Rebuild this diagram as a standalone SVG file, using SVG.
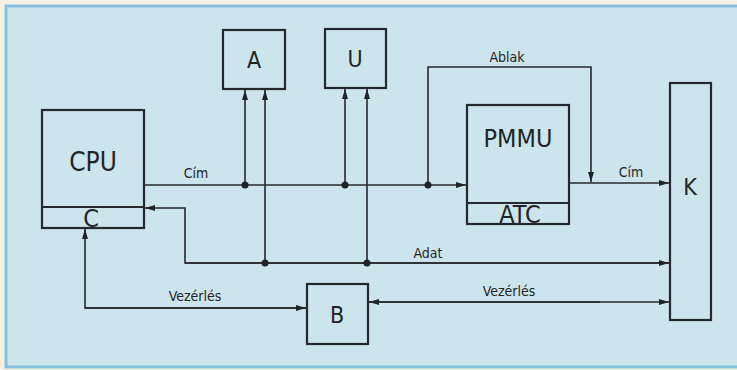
<svg xmlns="http://www.w3.org/2000/svg" width="737" height="370" viewBox="0 0 737 370">
<style>
.box{fill:none;stroke:#23292c;stroke-width:2.2}
.ln{fill:none;stroke:#23292c;stroke-width:1.6}
.big{font-family:"DejaVu Sans Condensed","DejaVu Sans",sans-serif;fill:#1f2527;text-anchor:middle}
.lbl{font-family:"DejaVu Sans Condensed","DejaVu Sans",sans-serif;fill:#1f2527;font-size:14px;text-anchor:middle}
.dot{fill:#1f2527}
</style>
<defs>
<marker id="ar" viewBox="0 0 10 6" refX="10" refY="3" markerWidth="10" markerHeight="6" markerUnits="userSpaceOnUse" orient="auto">
<path d="M0,0 L10,3 L0,6 Z" fill="#1f2527"/>
</marker>
</defs>
<rect x="0" y="0" width="737" height="370" fill="#f4f0e2"/>
<rect x="6" y="6" width="740" height="361" fill="#cce4ec" stroke="#86bfdc" stroke-width="3"/>

<g id="cpu">
<rect class="box" x="42" y="110" width="102" height="118"/>
<line class="box" x1="42" y1="207" x2="144" y2="207"/>
<text class="big" x="93" y="171" font-size="26">CPU</text>
<text class="big" x="91" y="227" font-size="25">C</text>
</g>
<g id="a">
<rect class="box" x="223" y="30" width="62" height="59"/>
<text class="big" x="254" y="68" font-size="23">A</text>
</g>
<g id="u">
<rect class="box" x="325" y="29" width="61" height="59"/>
<text class="big" x="355" y="67" font-size="23">U</text>
</g>
<g id="pmmu">
<rect class="box" x="467" y="105" width="102" height="119"/>
<line class="box" x1="467" y1="203" x2="569" y2="203"/>
<text class="big" x="518" y="147" font-size="25">PMMU</text>
<text class="big" x="520" y="223" font-size="25">ATC</text>
</g>
<g id="k">
<rect class="box" x="670" y="83" width="41" height="237"/>
<text class="big" x="690" y="195" font-size="23">K</text>
</g>
<g id="b">
<rect class="box" x="307" y="284" width="61" height="60"/>
<text class="big" x="337" y="323" font-size="23">B</text>
</g>

<g id="connectors">
<line class="ln" x1="144" y1="185" x2="466" y2="185" marker-end="url(#ar)"/>
<line class="ln" x1="245" y1="185" x2="245" y2="90" marker-end="url(#ar)"/>
<line class="ln" x1="265" y1="263" x2="265" y2="90" marker-end="url(#ar)"/>
<line class="ln" x1="345" y1="185" x2="345" y2="89" marker-end="url(#ar)"/>
<line class="ln" x1="367" y1="263" x2="367" y2="89" marker-end="url(#ar)"/>
<polyline class="ln" points="428,185 428,67 591,67 591,182" marker-end="url(#ar)"/>
<line class="ln" x1="569" y1="183" x2="669" y2="183" marker-end="url(#ar)"/>
<polyline class="ln" points="669,263 185,263 185,208 145,208" marker-end="url(#ar)"/>
<line class="ln" x1="185" y1="263" x2="669" y2="263" marker-end="url(#ar)"/>
<polyline class="ln" points="306,308 85,308 85,229" marker-end="url(#ar)"/>
<line class="ln" x1="85" y1="308" x2="306" y2="308" marker-end="url(#ar)"/>
<line class="ln" x1="600" y1="302" x2="369" y2="302" marker-end="url(#ar)"/>
<line class="ln" x1="369" y1="302" x2="669" y2="302" marker-end="url(#ar)"/>
<circle class="dot" cx="245" cy="185" r="3.5"/>
<circle class="dot" cx="345" cy="185" r="3.5"/>
<circle class="dot" cx="428" cy="185" r="3.5"/>
<circle class="dot" cx="265" cy="263" r="3.5"/>
<circle class="dot" cx="367" cy="263" r="3.5"/>
</g>

<text class="lbl" x="196" y="178">Cím</text>
<text class="lbl" x="631" y="177">Cím</text>
<text class="lbl" x="507" y="62">Ablak</text>
<text class="lbl" x="428" y="258">Adat</text>
<text class="lbl" x="195" y="301">Vezérlés</text>
<text class="lbl" x="509" y="296">Vezérlés</text>
</svg>
